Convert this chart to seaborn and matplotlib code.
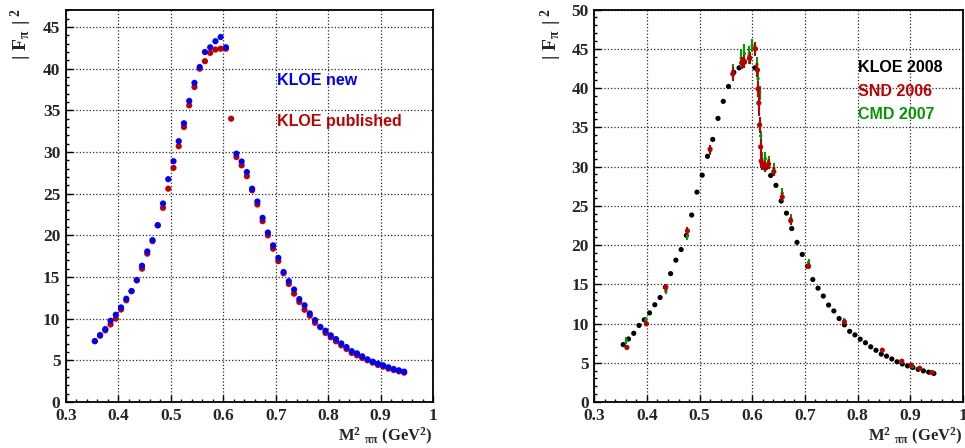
#! /usr/bin/env python3

import numpy as np
import pandas as pd
import matplotlib as mpl
mpl.use('agg')
import matplotlib.pyplot as plt
from matplotlib.ticker import MultipleLocator
import seaborn as sns

sns.set_theme(style='white')
plt.rcParams['font.family'] = ['Liberation Serif', 'DejaVu Serif']
plt.rcParams['font.weight'] = 'bold'
plt.rcParams['axes.labelweight'] = 'bold'
plt.rcParams['mathtext.fontset'] = 'custom'
plt.rcParams['mathtext.rm'] = 'Liberation Serif:bold'
plt.rcParams['mathtext.it'] = 'Liberation Serif:bold'
plt.rcParams['mathtext.bf'] = 'Liberation Serif:bold'

# --- KLOE bins (GeV^2)
m2_bins = [0.355, 0.365, 0.375, 0.385, 0.395, 0.405, 0.415, 0.425, 0.435, 0.445,
           0.455, 0.465, 0.475, 0.485, 0.495, 0.505, 0.515, 0.525, 0.535, 0.545,
           0.555, 0.565, 0.575, 0.585, 0.595, 0.605, 0.615, 0.625, 0.635, 0.645,
           0.655, 0.665, 0.675, 0.685, 0.695, 0.705, 0.715, 0.725, 0.735, 0.745,
           0.755, 0.765, 0.775, 0.785, 0.795, 0.805, 0.815, 0.825, 0.835, 0.845,
           0.855, 0.865, 0.875, 0.885, 0.895, 0.905, 0.915, 0.925, 0.935, 0.945]

kloe_new = [7.31, 8.03, 8.75, 9.75, 10.47, 11.35, 12.39, 13.31, 14.63, 16.35,
            18.07, 19.42, 21.22, 23.82, 26.74, 28.9, 31.3, 33.45, 36.13, 38.3,
            40.2, 42.0, 42.57, 43.3, 43.8, 42.57, np.nan, 29.8, 28.86, 27.6,
            25.6, 24.06, 22.1, 20.34, 18.8, 17.3, 15.6, 14.5, 13.5, 12.35,
            11.6, 10.63, 9.83, 9.0, 8.55, 8.0, 7.55, 7.03, 6.59, 6.1,
            5.84, 5.48, 5.12, 4.84, 4.6, 4.4, 4.16, 3.96, 3.8, 3.64]

kloe_pub = [7.3, 7.95, 8.6, 9.3, 10.0, 11.1, 12.2, 13.3, 14.6, 16.0,
            17.8, 19.3, 21.2, 23.3, 25.6, 28.1, 30.7, 33.0, 35.6, 37.8,
            40.0, 40.9, 41.9, 42.3, 42.4, 42.4, 34.0, 29.4, 28.4, 27.1,
            25.4, 23.7, 21.7, 20.0, 18.4, 16.9, 15.45, 14.16, 13.0, 12.0,
            11.07, 10.35, 9.5, 9.0, 8.28, 7.76, 7.28, 6.8, 6.36, 5.88,
            5.6, 5.28, 5.0, 4.72, 4.44, 4.24, 4.0, 3.84, 3.68, 3.52]

kloe_2008 = kloe_new

# --- SND 2006
snd_x = [0.362, 0.399, 0.436, 0.477, 0.520, 0.563, 0.580, 0.585, 0.595, 0.606,
         0.610, 0.611, 0.6125, 0.614, 0.616, 0.617, 0.619, 0.625, 0.631, 0.641,
         0.657, 0.673, 0.707, 0.775, 0.847, 0.884, 0.902, 0.918, 0.941]
snd_y = [6.95, 9.96, 14.6, 21.8, 32.2, 41.8, 43.2, 43.4, 43.8, 45.0,
         42.3, 39.9, 38.1, 35.3, 32.5, 30.7, 30.3, 30.0, 30.3, 29.35,
         26.1, 23.1, 17.3, 10.2, 6.6, 5.2, 4.7, 4.3, 3.75]
snd_err = [0.3, 0.3, 0.4, 0.5, 0.6, 0.9, 0.8, 0.8, 0.8, 0.9,
           0.9, 1.0, 1.6, 1.0, 1.0, 0.8, 0.7, 0.7, 0.6, 0.6,
           0.5, 0.5, 0.4, 0.3, 0.2, 0.2, 0.2, 0.15, 0.15]

# --- CMD-2 2007
cmd_x = [0.361, 0.398, 0.436, 0.477, 0.520, 0.563, 0.579, 0.585, 0.594, 0.600,
         0.609, 0.611, 0.614, 0.616, 0.618, 0.625, 0.631, 0.641, 0.657, 0.673,
         0.707, 0.775, 0.847, 0.884, 0.904, 0.920, 0.943]
cmd_y = [7.84, 10.4, 14.1, 21.15, 32.0, 42.1, 43.8, 44.4, 44.2, 45.4,
         43.0, 41.2, 39.4, 33.9, 31.0, 31.0, 30.7, 29.8, 26.6, 23.4,
         17.8, 10.4, 6.6, 5.05, 4.5, 4.2, 3.8]
cmd_err = [0.4, 0.4, 0.4, 0.5, 0.5, 1.0, 1.2, 1.2, 1.2, 0.8,
           1.0, 0.9, 0.9, 0.6, 0.8, 0.8, 0.7, 0.6, 0.6, 0.5,
           0.4, 0.3, 0.2, 0.2, 0.2, 0.15, 0.15]

c_blue = '#0000ff'
c_red = '#c00000'
c_green = '#009a00'

df_left = pd.DataFrame({'m2': m2_bins, 'new': kloe_new, 'pub': kloe_pub})
df_snd = pd.DataFrame({'m2': snd_x, 'ff': snd_y, 'err': snd_err})
df_cmd = pd.DataFrame({'m2': cmd_x, 'ff': cmd_y, 'err': cmd_err})
df_kloe = pd.DataFrame({'m2': m2_bins, 'ff': kloe_2008})


def style_axis(ax, ymax):
    ax.set_xlim(0.3, 1.0)
    ax.set_ylim(0, ymax)
    ax.xaxis.set_major_locator(MultipleLocator(0.1))
    ax.xaxis.set_minor_locator(MultipleLocator(0.02))
    ax.yaxis.set_major_locator(MultipleLocator(5))
    ax.yaxis.set_minor_locator(MultipleLocator(1))
    ax.set_xticks([0.3, 0.4, 0.5, 0.6, 0.7, 0.8, 0.9, 1.0])
    ax.set_xticklabels(['0.3', '0.4', '0.5', '0.6', '0.7', '0.8', '0.9', '1'])
    ax.tick_params(which='both', direction='in', top=False, right=False,
                   left=True, bottom=True, color='black')
    ax.tick_params(which='major', length=5, width=1, labelsize=12.5, pad=4)
    ax.tick_params(which='minor', length=2.5, width=1)
    ax.grid(True, which='major', color='0.15', linestyle=':', linewidth=0.9)
    for sp in ax.spines.values():
        sp.set_color('black')
        sp.set_linewidth(1.3)
    ax.set_xlabel(r'M$^{2}$ $_{\pi\pi}$ (GeV$^{2}$)', fontsize=12, loc='right')
    ax.xaxis.set_label_coords(1.0, -0.088)
    ax.xaxis.label.set_verticalalignment('center')


fig = plt.figure(figsize=(9.65, 4.48), dpi=100)
ax1 = fig.add_axes([0.0684, 0.1027, 0.3803, 0.876])
ax2 = fig.add_axes([0.6158, 0.1027, 0.382, 0.876])

ylab = r'$|\ \mathrm{F}_{\pi}\ |^{\ 2}$'

# --- left: KLOE new vs published
sns.scatterplot(data=df_left, x='m2', y='pub', color=c_red, s=20,
                edgecolor='none', ax=ax1, zorder=3)
sns.scatterplot(data=df_left, x='m2', y='new', color=c_blue, s=20,
                edgecolor='none', ax=ax1, zorder=4)
style_axis(ax1, 47.1)
ax1.set_ylabel('')
fig.text(21 / 965, 1 - 8 / 448, ylab, rotation=90, ha='center', va='top',
         fontsize=14)
ax1.text(0.7025, 38.6, 'KLOE new', color=c_blue, fontsize=11.5,
         fontweight='bold', family='Liberation Sans', va='center')
ax1.text(0.7025, 33.7, 'KLOE published', color=c_red, fontsize=11.5,
         fontweight='bold', family='Liberation Sans', va='center')

# --- right: KLOE 2008 vs SND and CMD-2
sns.scatterplot(data=df_kloe, x='m2', y='ff', color='black', s=14,
                edgecolor='none', ax=ax2, zorder=3)
ax2.errorbar(df_cmd['m2'], df_cmd['ff'], yerr=df_cmd['err'], fmt='none',
             ecolor=c_green, elinewidth=1.5, zorder=4)
sns.scatterplot(data=df_cmd, x='m2', y='ff', color=c_green, s=6,
                edgecolor='none', ax=ax2, zorder=4)
ax2.errorbar(df_snd['m2'], df_snd['ff'], yerr=df_snd['err'], fmt='none',
             ecolor=c_red, elinewidth=1.5, zorder=5)
sns.scatterplot(data=df_snd, x='m2', y='ff', color=c_red, s=14,
                edgecolor='none', ax=ax2, zorder=5)
style_axis(ax2, 50)
ax2.set_ylabel('')
fig.text(551 / 965, 1 - 8 / 448, ylab, rotation=90, ha='center', va='top',
         fontsize=14)
ax2.text(0.801, 42.6, 'KLOE 2008', color='black', fontsize=11.5,
         fontweight='bold', family='Liberation Sans', va='center')
ax2.text(0.801, 39.6, 'SND 2006', color=c_red, fontsize=11.5,
         fontweight='bold', family='Liberation Sans', va='center')
ax2.text(0.801, 36.6, 'CMD 2007', color=c_green, fontsize=11.5,
         fontweight='bold', family='Liberation Sans', va='center')

plt.savefig('out.png', dpi=100)
plt.close(fig)
